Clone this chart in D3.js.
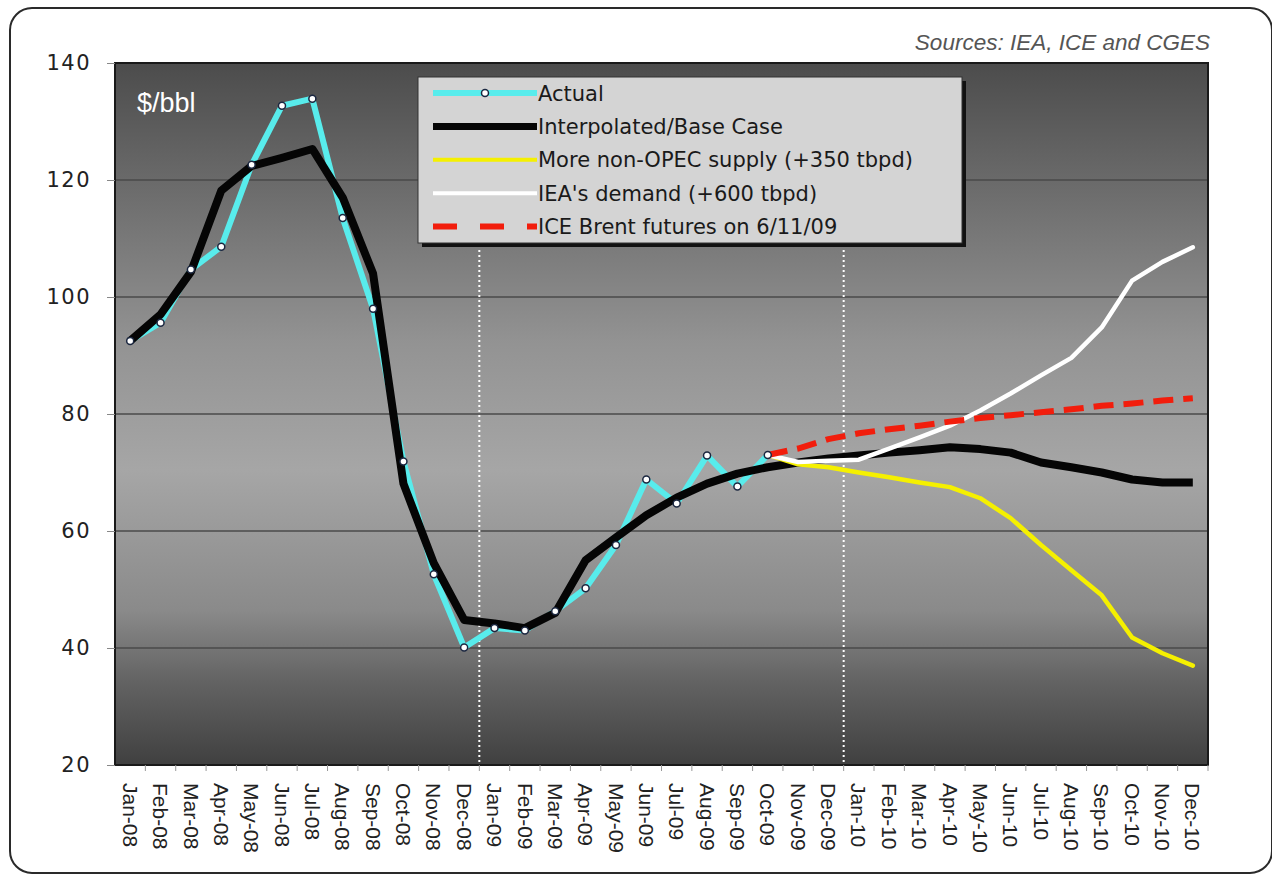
<!DOCTYPE html>
<html>
<head>
<meta charset="utf-8">
<script src="https://cdn.jsdelivr.net/npm/d3@7"></script>
<style>
  body { margin: 0; background: #fff; }
  svg { display: block; }
</style>
</head>
<body>
<div id="chart"></div>
<script>
// months on the x axis
const months = ["Jan-08","Feb-08","Mar-08","Apr-08","May-08","Jun-08","Jul-08","Aug-08","Sep-08","Oct-08","Nov-08","Dec-08",
                "Jan-09","Feb-09","Mar-09","Apr-09","May-09","Jun-09","Jul-09","Aug-09","Sep-09","Oct-09","Nov-09","Dec-09",
                "Jan-10","Feb-10","Mar-10","Apr-10","May-10","Jun-10","Jul-10","Aug-10","Sep-10","Oct-10","Nov-10","Dec-10"];

// Actual prices Jan-08 .. Oct-09
const actual = [92.5, 95.6, 104.7, 108.6, 122.6, 132.7, 133.9, 113.5, 98, 71.9, 52.6, 40.1,
                43.4, 43.0, 46.3, 50.2, 57.6, 68.8, 64.7, 72.9, 67.6, 73];

// Interpolated / base case Jan-08 .. Dec-10
const baseCase = [92.5, 97, 104.3, 118.2, 122.4, 123.8, 125.3, 117, 104, 68.1, 54.5, 44.8,
                  44.2, 43.4, 46, 55, 58.9, 62.7, 65.7, 68.1, 69.8, 70.9, 71.7, 72.4,
                  72.9, 73.4, 73.8, 74.3, 74, 73.4, 71.7, 70.9, 70, 68.8, 68.3, 68.3];

// Scenarios Oct-09 .. Dec-10
const nonOpec = [73, 71.4, 70.9, 70, 69.2, 68.3, 67.5, 65.6, 62.2, 57.6, 53.3, 49, 41.8, 39.1, 37];
const ieaDemand = [73, 71.8, 72, 72.2, 74.1, 76, 78, 80.6, 83.5, 86.6, 89.6, 94.8, 102.8, 106, 108.5];
const brentFutures = [73, 74.1, 75.7, 76.7, 77.4, 78, 78.7, 79.3, 79.8, 80.3, 80.8, 81.4, 81.8, 82.3, 82.7];

const yTicks = [20, 40, 60, 80, 100, 120, 140];

const legendLabels = ["Actual", "Interpolated/Base Case", "More non-OPEC supply (+350 tbpd)",
                      "IEA's demand (+600 tbpd)", "ICE Brent futures on 6/11/09"];

const width = 1272, height = 876;
const margin = { top: 63, right: 64, bottom: 111, left: 115 };
const plotBottom = height - margin.bottom;
const plotRight = width - margin.right;

const svg = d3.select("#chart").append("svg")
    .attr("width", width)
    .attr("height", height);

// outer frame
svg.append("rect")
    .attr("x", 10).attr("y", 8)
    .attr("width", 1262).attr("height", 865)
    .attr("rx", 22)
    .attr("fill", "#fff")
    .attr("stroke", "#2a2a2a")
    .attr("stroke-width", 2);

const x = d3.scaleBand()
    .domain(months)
    .range([margin.left, plotRight])
    .padding(0);
const cx = m => x(m) + x.bandwidth() / 2;

const y = d3.scaleLinear()
    .domain([20, 140])
    .range([plotBottom, margin.top]);

// plot background gradient
const defs = svg.append("defs");
const grad = defs.append("linearGradient")
    .attr("id", "bg").attr("x1", 0).attr("y1", 0).attr("x2", 0).attr("y2", 1);
[["0%", "#4c4c4c"], ["40%", "#939393"], ["58%", "#a6a6a6"], ["78%", "#8a8a8a"], ["88%", "#636363"], ["100%", "#404040"]]
    .forEach(s => grad.append("stop").attr("offset", s[0]).attr("stop-color", s[1]));

svg.append("rect")
    .attr("x", margin.left).attr("y", margin.top)
    .attr("width", plotRight - margin.left)
    .attr("height", plotBottom - margin.top)
    .attr("fill", "url(#bg)");

// gridlines
svg.append("g")
    .selectAll("line")
    .data(yTicks.slice(1, -1))
    .enter().append("line")
    .attr("x1", margin.left).attr("x2", plotRight)
    .attr("y1", d => y(d)).attr("y2", d => y(d))
    .attr("stroke", "#4a4a4a")
    .attr("stroke-width", 1.5);

// dotted separators between years (they start under the legend)
svg.append("g")
    .selectAll("line")
    .data(["Jan-09", "Jan-10"])
    .enter().append("line")
    .attr("x1", d => x(d)).attr("x2", d => x(d))
    .attr("y1", 250).attr("y2", plotBottom)
    .attr("stroke", "#fff")
    .attr("stroke-width", 2)
    .attr("stroke-dasharray", "2,3");

// plot frame
svg.append("rect")
    .attr("x", margin.left).attr("y", margin.top)
    .attr("width", plotRight - margin.left)
    .attr("height", plotBottom - margin.top)
    .attr("fill", "none")
    .attr("stroke", "#1a1a1a")
    .attr("stroke-width", 2);

// y axis
const yAxis = svg.append("g")
    .attr("transform", `translate(${margin.left},0)`)
    .call(d3.axisLeft(y).tickValues(yTicks).tickSize(8).tickPadding(16));
yAxis.select(".domain").remove();
yAxis.selectAll("line").attr("stroke", "#888");
yAxis.selectAll("text")
    .attr("font-family", "DejaVu Sans, Verdana, sans-serif")
    .attr("font-size", 21)
    .attr("letter-spacing", 1.5)
    .attr("fill", "#222");

// x axis
const xAxis = svg.append("g")
    .attr("transform", `translate(0,${plotBottom})`)
    .call(d3.axisBottom(x).tickSize(0));
xAxis.select(".domain").remove();
xAxis.selectAll("text")
    .attr("transform", "rotate(90)")
    .attr("text-anchor", "start")
    .attr("x", 18)
    .attr("y", 0)
    .attr("dy", "0.35em")
    .attr("font-family", "Liberation Sans, Arial, sans-serif")
    .attr("font-size", 21)
    .attr("fill", "#222");

// small ticks at band boundaries
svg.append("g")
    .selectAll("line")
    .data(months)
    .enter().append("line")
    .attr("x1", d => x(d) + x.bandwidth()).attr("x2", d => x(d) + x.bandwidth())
    .attr("y1", plotBottom).attr("y2", plotBottom + 6)
    .attr("stroke", "#999");

// line generator
const fcStart = months.indexOf("Oct-09");
const line = d3.line()
    .x(d => cx(d.m)).y(d => y(d.v));

const actualPts = actual.map((v, i) => ({ m: months[i], v: v }));
const basePts = baseCase.map((v, i) => ({ m: months[i], v: v }));
const toPts = arr => arr.map((v, i) => ({ m: months[fcStart + i], v: v }));

svg.append("path")
    .attr("d", line(actualPts))
    .attr("fill", "none")
    .attr("stroke", "#58ecec")
    .attr("stroke-width", 6)
    .attr("stroke-linejoin", "round");

svg.append("path")
    .attr("d", line(basePts))
    .attr("fill", "none")
    .attr("stroke", "#050505")
    .attr("stroke-width", 8)
    .attr("stroke-linejoin", "round");

svg.append("path")
    .attr("d", line(toPts(nonOpec)))
    .attr("fill", "none")
    .attr("stroke", "#f5f000")
    .attr("stroke-width", 4.5)
    .attr("stroke-linejoin", "round")
    .attr("stroke-linecap", "round");

svg.append("path")
    .attr("d", line(toPts(ieaDemand)))
    .attr("fill", "none")
    .attr("stroke", "#ffffff")
    .attr("stroke-width", 4.5)
    .attr("stroke-linejoin", "round")
    .attr("stroke-linecap", "round");

svg.append("path")
    .attr("d", line(toPts(brentFutures)))
    .attr("fill", "none")
    .attr("stroke", "#f21d0c")
    .attr("stroke-width", 6)
    .attr("stroke-dasharray", "20,10");

// markers for actual
svg.append("g")
    .selectAll("circle")
    .data(actualPts)
    .enter().append("circle")
    .attr("cx", d => cx(d.m))
    .attr("cy", d => y(d.v))
    .attr("r", 3.5)
    .attr("fill", "#fff")
    .attr("stroke", "#1b2740")
    .attr("stroke-width", 1.5);

// $/bbl label
svg.append("text")
    .attr("x", 137).attr("y", 112)
    .attr("font-family", "Liberation Sans, Arial, sans-serif")
    .attr("font-size", 27)
    .attr("fill", "#fff")
    .text("$/bbl");

// sources
svg.append("text")
    .attr("x", 1210).attr("y", 50)
    .attr("text-anchor", "end")
    .attr("font-family", "Liberation Sans, Arial, sans-serif")
    .attr("font-style", "italic")
    .attr("font-size", 22.5)
    .attr("fill", "#555")
    .text("Sources: IEA, ICE and CGES");

// legend
const legend = svg.append("g").attr("transform", "translate(418,77)");
legend.append("rect")
    .attr("x", 4).attr("y", 4)
    .attr("width", 544).attr("height", 166)
    .attr("fill", "#111");
legend.append("rect")
    .attr("width", 544).attr("height", 166)
    .attr("fill", "#d4d4d4")
    .attr("stroke", "#333")
    .attr("stroke-width", 1);

const legendStyles = [
    { color: "#58ecec", w: 6, dash: null, marker: true },
    { color: "#050505", w: 7, dash: null },
    { color: "#f5f000", w: 4, dash: null },
    { color: "#ffffff", w: 4, dash: null },
    { color: "#f21d0c", w: 6, dash: "24,23" }
];

legendLabels.forEach((label, i) => {
    const ly = 16 + i * 33.4;
    const st = legendStyles[i];
    legend.append("line")
        .attr("x1", 15).attr("x2", 119)
        .attr("y1", ly).attr("y2", ly)
        .attr("stroke", st.color)
        .attr("stroke-width", st.w)
        .attr("stroke-dasharray", st.dash);
    if (st.marker) {
        legend.append("circle")
            .attr("cx", 67).attr("cy", ly).attr("r", 3.5)
            .attr("fill", "#fff").attr("stroke", "#1b2740").attr("stroke-width", 1.5);
    }
    legend.append("text")
        .attr("x", 120).attr("y", ly)
        .attr("dy", "0.36em")
        .attr("font-family", "DejaVu Sans, Verdana, sans-serif")
        .attr("font-size", 21)
        .attr("fill", "#1a1a1a")
        .text(label);
});
</script>
</body>
</html>
